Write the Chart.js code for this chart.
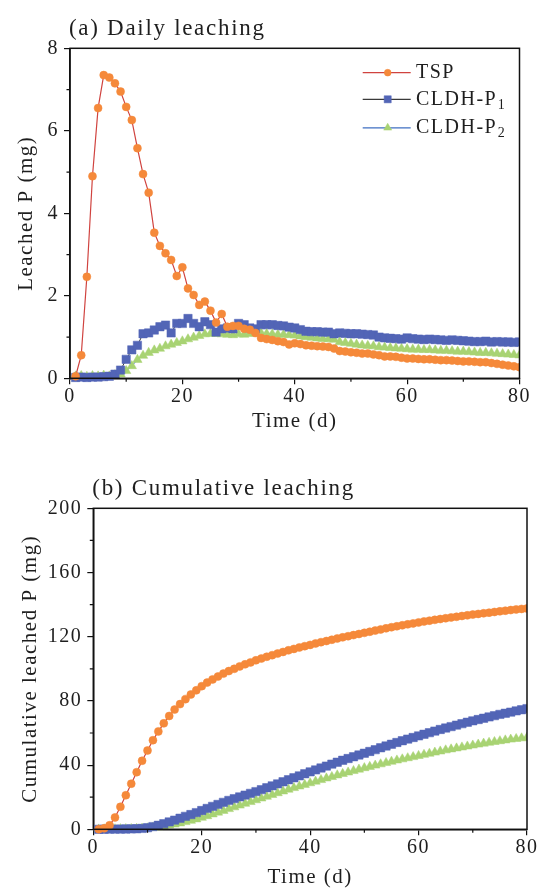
<!DOCTYPE html>
<html><head><meta charset="utf-8">
<script src="https://cdn.jsdelivr.net/npm/chart.js@4/dist/chart.umd.min.js"></script>
<style>
html,body{margin:0;padding:0;background:#fff;width:539px;height:891px;overflow:hidden}
#ca{position:absolute;left:0;top:0}
#cb{position:absolute;left:0;top:445px}
</style></head><body>
<canvas id="ca" width="539" height="445"></canvas>
<canvas id="cb" width="539" height="446"></canvas>
<script>
// ---------- data ----------
const seriesNames = ['TSP', 'CLDH-P1', 'CLDH-P2'];
const panelTitles = ['(a) Daily leaching', '(b) Cumulative leaching'];
const xTitle = 'Time (d)';
const yTitles = ['Leached P (mg)', 'Cumulative leached P (mg)'];

const days = [1,2,3,4,5,6,7,8,9,10,11,12,13,14,15,16,17,18,19,20,21,22,23,24,25,26,27,28,29,30,
  31,32,33,34,35,36,37,38,39,40,41,42,43,44,45,46,47,48,49,50,51,52,53,54,55,56,57,58,59,60,
  61,62,63,64,65,66,67,68,69,70,71,72,73,74,75,76,77,78,79,80];

const tspDaily = [0.05,0.56,2.46,4.90,6.55,7.35,7.29,7.15,6.95,6.58,6.26,5.58,4.95,4.50,3.53,3.21,3.03,2.87,2.48,2.69,
  2.18,2.02,1.78,1.86,1.64,1.35,1.56,1.25,1.27,1.27,1.20,1.18,1.10,0.98,0.95,0.93,0.90,0.88,0.82,0.85,
  0.83,0.80,0.79,0.78,0.77,0.76,0.72,0.66,0.65,0.63,0.62,0.60,0.60,0.58,0.56,0.53,0.53,0.52,0.50,0.48,
  0.48,0.47,0.46,0.46,0.45,0.44,0.44,0.43,0.42,0.41,0.41,0.40,0.39,0.39,0.37,0.35,0.33,0.31,0.29,0.27];

const p1Daily = [0.02,0.03,0.02,0.03,0.03,0.04,0.05,0.10,0.20,0.46,0.69,0.80,1.08,1.10,1.17,1.25,1.29,1.10,1.33,1.33,
  1.45,1.33,1.25,1.37,1.30,1.12,1.20,1.22,1.20,1.33,1.30,1.22,1.20,1.30,1.30,1.30,1.28,1.27,1.24,1.22,
  1.18,1.14,1.13,1.13,1.12,1.12,1.08,1.10,1.09,1.08,1.08,1.07,1.06,1.05,1.00,0.98,0.97,0.96,0.95,0.98,
  0.96,0.95,0.94,0.95,0.94,0.93,0.92,0.93,0.92,0.91,0.90,0.89,0.89,0.90,0.88,0.89,0.88,0.88,0.87,0.88];

const p2Daily = [0.05,0.06,0.04,0.06,0.05,0.07,0.05,0.08,0.10,0.18,0.30,0.45,0.55,0.62,0.68,0.72,0.78,0.82,0.86,0.90,
  0.95,0.99,1.03,1.07,1.08,1.08,1.07,1.06,1.05,1.07,1.06,1.08,1.09,1.10,1.08,1.07,1.06,1.06,1.05,1.04,
  1.02,1.00,0.99,0.97,0.96,0.95,0.94,0.88,0.86,0.84,0.82,0.80,0.79,0.78,0.76,0.75,0.74,0.73,0.72,0.71,
  0.70,0.70,0.69,0.69,0.68,0.67,0.67,0.66,0.65,0.65,0.64,0.63,0.62,0.62,0.61,0.60,0.59,0.58,0.57,0.56];

const tspCum = [0.05,0.6,2.5,7.4,14.0,21.2,28.4,35.6,42.7,49.1,55.5,61.0,66.0,70.6,74.6,78.0,81.1,84.0,86.6,89.2,
  91.4,93.4,95.2,97.0,98.6,100.0,101.5,102.8,104.0,105.3,106.4,107.5,108.5,109.5,110.5,111.5,112.4,113.3,114.1,114.9,
  115.8,116.6,117.3,118.1,118.9,119.6,120.3,121.0,121.7,122.4,123.1,123.8,124.5,125.2,125.9,126.5,127.1,127.7,128.3,128.9,
  129.5,130.0,130.5,131.0,131.5,132.0,132.4,132.9,133.3,133.8,134.2,134.6,135.0,135.4,135.8,136.2,136.6,137.0,137.3,137.6];

const p1Cum = [0.0,0.05,0.1,0.1,0.15,0.2,0.25,0.35,0.55,1.0,1.7,2.5,3.5,4.6,5.7,6.9,8.1,9.2,10.4,11.7,
  13.0,14.3,15.5,16.8,18.0,19.1,20.2,21.3,22.4,23.5,24.7,25.9,27.1,28.3,29.6,30.9,32.1,33.3,34.6,35.8,
  37.0,38.2,39.4,40.6,41.8,43.0,44.1,45.2,46.3,47.4,48.5,49.6,50.8,51.9,53.0,54.1,55.2,56.2,57.2,58.2,
  59.2,60.2,61.2,62.2,63.1,64.0,64.9,65.8,66.7,67.6,68.4,69.2,70.0,70.8,71.6,72.3,73.0,73.8,74.5,75.2];

const p2Cum = [0.0,0.05,0.1,0.15,0.2,0.25,0.3,0.4,0.5,0.7,1.0,1.4,1.9,2.5,3.1,3.8,4.6,5.4,6.3,7.3,
  8.3,9.4,10.5,11.6,12.7,13.8,14.9,16.0,17.1,18.2,19.3,20.4,21.5,22.6,23.7,24.8,25.8,26.8,27.8,28.8,
  29.8,30.8,31.8,32.7,33.7,34.6,35.5,36.4,37.3,38.2,39.0,39.8,40.6,41.4,42.2,43.0,43.7,44.4,45.1,45.8,
  46.5,47.2,47.9,48.6,49.3,49.9,50.5,51.1,51.7,52.3,52.9,53.5,54.0,54.5,55.0,55.5,56.0,56.4,56.8,57.2];

const xMinorTicks = [10, 30, 50, 70];
const yMinorTicksA = [1, 3, 5, 7];
const yMinorTicksB = [20, 60, 100, 140, 180];

// ---------- styles ----------
const FONT = "'Liberation Serif','Times New Roman',serif";
const ORANGE = '#F5893A', BLUE = '#5265B6', GREEN = '#A8D373';
const LINE_TSP = '#D0433F', LINE_P1 = '#3A3A3A', LINE_P2 = '#3F6FC2';
const TXT = '#1e1e1e';
Chart.defaults.font.family = FONT;
Chart.defaults.color = TXT;

const styles = [
  {pointStyle:'circle', radius:4, fill:ORANGE, line:LINE_TSP, lw:1.2},
  {pointStyle:'rect', radius:5.9, fill:BLUE, line:LINE_P1, lw:1},
  {pointStyle:'triangle', radius:5.4, fill:GREEN, line:LINE_P2, lw:1}
];

function pts(ys){ return days.map((d,i)=>({x:d, y:ys[i]})); }
function makeDatasets(arrs){
  return arrs.map((ys,i)=>({
    label: seriesNames[i],
    data: pts(ys),
    borderColor: styles[i].line,
    borderWidth: styles[i].lw,
    pointStyle: styles[i].pointStyle,
    pointRadius: styles[i].radius,
    pointBackgroundColor: styles[i].fill,
    pointBorderColor: styles[i].fill,
    pointBorderWidth: 0.5,
    tension: 0,
    clip: {left:6, top:6, right:0, bottom:6}
  }));
}

function drawLabelWithSub(ctx, text, x, y){
  const m = text.match(/^(.*P)(\d)$/);
  if(!m){ ctx.fillText(text, x, y); return; }
  ctx.fillText(m[1], x, y);
  const w = ctx.measureText(m[1]).width;
  const f = ctx.font;
  ctx.font = "14px " + FONT;
  ctx.fillText(m[2], x + w + 0.5, y + 6);
  ctx.font = f;
}

const framePlugin = {
  id: 'frame',
  beforeDraw(chart){
    chart.ctx.letterSpacing = '1.5px';
  },
  afterDatasetsDraw(chart, args, o){
    const {ctx, chartArea:a, scales} = chart;
    ctx.save();
    ctx.strokeStyle = '#111';
    ctx.lineWidth = 1.5;
    ctx.strokeRect(a.left, a.top, a.right - a.left, a.bottom - a.top);
    ctx.lineWidth = 1.2;
    ctx.beginPath();
    o.xMinor.forEach(v=>{ const px = scales.x.getPixelForValue(v); ctx.moveTo(px, a.bottom); ctx.lineTo(px, a.bottom + 3.5); });
    o.yMinor.forEach(v=>{ const py = scales.y.getPixelForValue(v); ctx.moveTo(a.left, py); ctx.lineTo(a.left - 3.5, py); });
    ctx.stroke();
    ctx.fillStyle = TXT;
    ctx.font = "23px " + FONT;
    ctx.letterSpacing = '1.7px';
    ctx.textAlign = 'left';
    ctx.textBaseline = 'alphabetic';
    ctx.fillText(o.title, a.left - 1, a.top - 13);
    ctx.letterSpacing = '1.5px';
    if (o.legend) {
      const L = o.legend;
      chart.data.datasets.forEach((ds, i)=>{
        const y = a.top + L.rows[i];
        ctx.strokeStyle = ds.borderColor;
        ctx.lineWidth = 1.2;
        ctx.beginPath();
        ctx.moveTo(a.left + L.x0, y); ctx.lineTo(a.left + L.x1, y); ctx.stroke();
        ctx.fillStyle = ds.pointBackgroundColor;
        ctx.strokeStyle = ds.pointBorderColor;
        ctx.lineWidth = 0.5;
        Chart.helpers.drawPoint(ctx, {pointStyle: ds.pointStyle, radius: ds.pointRadius * 0.85, rotation: 0, borderWidth: 0.5}, a.left + L.xm, y);
        ctx.fillStyle = TXT;
        ctx.font = "20px " + FONT;
        ctx.textBaseline = 'middle';
        drawLabelWithSub(ctx, ds.label, a.left + L.xt, y);
      });
    }
    ctx.restore();
  }
};

function axisCommon(){
  return {
    grid: {drawOnChartArea:false, drawTicks:true, tickLength:6, color:'#111', lineWidth:1.2},
    border: {display:true, color:'#111', width:1.5}
  };
}

function makeChart(canvas, arrs, cfg){
  return new Chart(canvas, {
    type: 'line',
    data: {datasets: makeDatasets(arrs)},
    options: {
      responsive: false,
      animation: false,
      devicePixelRatio: 1,
      layout: {padding: {left:0, top:cfg.padTop, right:cfg.padRight, bottom:0}},
      plugins: {
        legend: {display:false},
        tooltip: {enabled:false},
        frame: {title: cfg.title, xMinor: xMinorTicks, yMinor: cfg.yMinor, legend: cfg.legend}
      },
      scales: {
        x: Object.assign(axisCommon(), {
          type: 'linear', min: 0, max: 80,
          ticks: {stepSize: 20, font: {size: 20}, color: TXT, padding: 0, maxRotation: 0},
          title: {display: true, text: xTitle, font: {size: 21}, color: TXT, padding: {top:0, bottom: cfg.xTitlePad}},
          afterFit: s => { s.height = cfg.xHeight; }
        }),
        y: Object.assign(axisCommon(), {
          min: 0, max: cfg.yMax,
          ticks: {stepSize: cfg.yStep, font: {size: 20}, color: TXT, padding: 5},
          title: {display: true, text: cfg.yTitle, font: {size: 21}, color: TXT, padding: {top: cfg.yTitlePad, bottom: 0}},
          afterFit: s => { s.width = cfg.yWidth; }
        })
      }
    },
    plugins: [framePlugin]
  });
}

makeChart(document.getElementById('ca'), [tspDaily, p1Daily, p2Daily], {
  title: panelTitles[0], yTitle: yTitles[0], yMax: 8, yStep: 2, yMinor: yMinorTicksA,
  padTop: 48.3, padRight: 19.5, xHeight: 66.7, yWidth: 70, xTitlePad: 10.8, yTitlePad: 13.4,
  legend: {x0: 292.7, xm: 317.7, x1: 340.7, xt: 346, rows: [24.4, 51, 79.5]}
});

makeChart(document.getElementById('cb'), [tspCum, p1Cum, p2Cum], {
  title: panelTitles[1], yTitle: yTitles[1], yMax: 200, yStep: 40, yMinor: yMinorTicksB,
  padTop: 63.3, padRight: 12, xHeight: 61.7, yWidth: 93.3, xTitlePad: 0.8, yTitlePad: 17.4,
  legend: null
});
</script>
</body></html>
